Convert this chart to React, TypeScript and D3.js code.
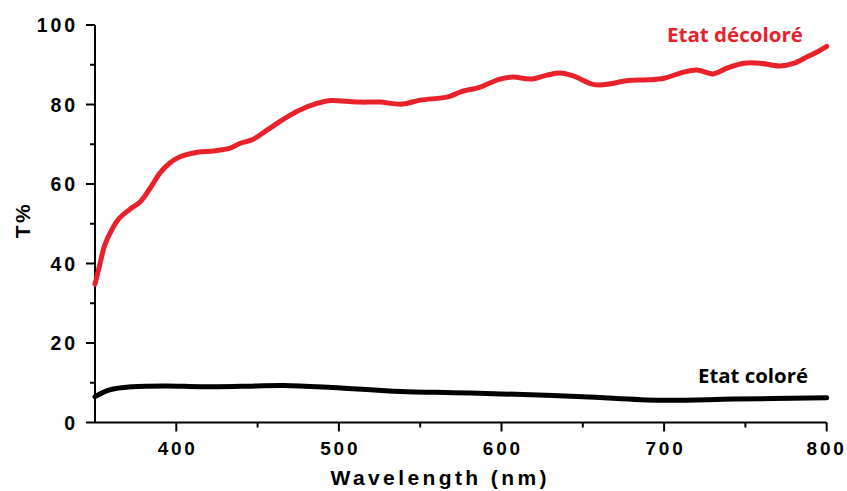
import React from "react";
import * as d3 from "d3";

const redWl = [350, 353, 356, 361, 365, 371, 378, 384, 390, 396, 402, 413, 423, 433, 439, 447, 456, 466, 476, 486, 495, 505, 513, 525, 539, 550, 567, 575, 587, 599, 607, 618, 628, 636, 644, 657, 667, 677, 690, 700, 710, 720, 730, 739, 749, 759, 771, 780, 788, 795, 800];
const redT = [34.8, 39.8, 44.6, 49.0, 51.4, 53.5, 55.6, 59.0, 62.8, 65.3, 66.8, 68.0, 68.3, 69.0, 70.2, 71.2, 73.6, 76.3, 78.6, 80.2, 81.0, 80.8, 80.6, 80.6, 80.1, 81.1, 81.9, 83.2, 84.4, 86.4, 86.9, 86.4, 87.4, 87.9, 87.2, 85.0, 85.2, 86.0, 86.2, 86.6, 87.9, 88.7, 87.7, 89.2, 90.4, 90.4, 89.7, 90.4, 92.0, 93.4, 94.6];

const blackWl = [350, 359, 373, 394, 415, 440, 466, 496, 538, 570, 600, 650, 698, 743, 800];
const blackT = [6.5, 8.2, 9.0, 9.2, 9.0, 9.1, 9.3, 8.8, 7.8, 7.5, 7.2, 6.5, 5.6, 5.9, 6.2];

const xMajor = [400, 500, 600, 700, 800];
const xMinor = [450, 550, 650, 750];
const yMajor = [0, 20, 40, 60, 80, 100];
const yMinor = [10, 30, 50, 70, 90];

const labelRed = "Etat décoloré";
const labelBlack = "Etat coloré";
const xTitle = "Wavelength (nm)";
const yTitle = "T%";

export default function App() {
  const W = 847, H = 491;
  const x = d3.scaleLinear().domain([350, 800]).range([95, 826.7]);
  const y = d3.scaleLinear().domain([0, 100]).range([422.5, 25]);
  const line = d3
    .line<[number, number]>()
    .x((d) => x(d[0]))
    .y((d) => y(d[1]))
    .curve(d3.curveCatmullRom.alpha(0.5));
  const redPts = redWl.map((w, i) => [w, redT[i]] as [number, number]);
  const blackPts = blackWl.map((w, i) => [w, blackT[i]] as [number, number]);
  const tickFont = "'Liberation Sans', Arial, sans-serif";
  const ls = 2.8;
  return (
    <svg
      width={W}
      height={H}
      style={{ position: "absolute", left: 0, top: 0, background: "#fff" }}
    >
      <rect width={W} height={H} fill="#fff" />
      {/* axes */}
      <line x1={x(350)} x2={x(350)} y1={y(100)} y2={y(0)} stroke="#000" strokeWidth={2} />
      <line x1={x(350)} x2={x(800)} y1={y(0)} y2={y(0)} stroke="#000" strokeWidth={2} />
      {yMajor.map((v) => (
        <g key={"ym" + v}>
          <line x1={x(350) - 9} x2={x(350)} y1={y(v)} y2={y(v)} stroke="#000" strokeWidth={2} />
          <text
            x={x(350) - 20 + ls}
            y={y(v)}
            textAnchor="end"
            dominantBaseline="central"
            fontFamily={tickFont}
            fontWeight="bold"
            fontSize={19.5}
            letterSpacing={ls}
            fill="#000"
          >
            {v}
          </text>
        </g>
      ))}
      {yMinor.map((v) => (
        <line key={"yn" + v} x1={x(350) - 5} x2={x(350)} y1={y(v)} y2={y(v)} stroke="#000" strokeWidth={2} />
      ))}
      {xMajor.map((v) => (
        <g key={"xm" + v}>
          <line x1={x(v)} x2={x(v)} y1={y(0)} y2={y(0) + 9} stroke="#000" strokeWidth={2} />
          <text
            x={x(v) + ls / 2 - (v === 800 ? 1.5 : 0)}
            y={455}
            textAnchor="middle"
            fontFamily={tickFont}
            fontWeight="bold"
            fontSize={19}
            letterSpacing={ls}
            fill="#000"
          >
            {v}
          </text>
        </g>
      ))}
      {xMinor.map((v) => (
        <line key={"xn" + v} x1={x(v)} x2={x(v)} y1={y(0)} y2={y(0) + 5} stroke="#000" strokeWidth={2} />
      ))}
      <text
        x={438.5 + 1.7}
        y={485}
        textAnchor="middle"
        fontFamily={tickFont}
        fontWeight="bold"
        fontSize={21}
        letterSpacing={3.4}
        fill="#000"
      >
        {xTitle}
      </text>
      <text
        transform="translate(29.5,220) rotate(-90)"
        textAnchor="middle"
        fontFamily={tickFont}
        fontWeight="bold"
        fontSize={21}
        letterSpacing={2.5}
        fill="#000"
      >
        {yTitle}
      </text>
      {/* series */}
      <path d={line(blackPts) || ""} fill="none" stroke="#000" strokeWidth={5} strokeLinecap="round" strokeLinejoin="round" />
      <path d={line(redPts) || ""} fill="none" stroke="#e8212b" strokeWidth={5} strokeLinecap="round" strokeLinejoin="round" />
      <text
        x={667}
        y={42}
        fontFamily="'Open Sans', 'Liberation Sans', sans-serif"
        fontWeight="bold"
        fontSize={20}
        textLength={136}
        lengthAdjust="spacingAndGlyphs"
        fill="#e8212b"
      >
        {labelRed}
      </text>
      <text
        x={698}
        y={383}
        fontFamily="'Open Sans', 'Liberation Sans', sans-serif"
        fontWeight="bold"
        fontSize={20}
        textLength={110}
        lengthAdjust="spacingAndGlyphs"
        fill="#000"
      >
        {labelBlack}
      </text>
    </svg>
  );
}
